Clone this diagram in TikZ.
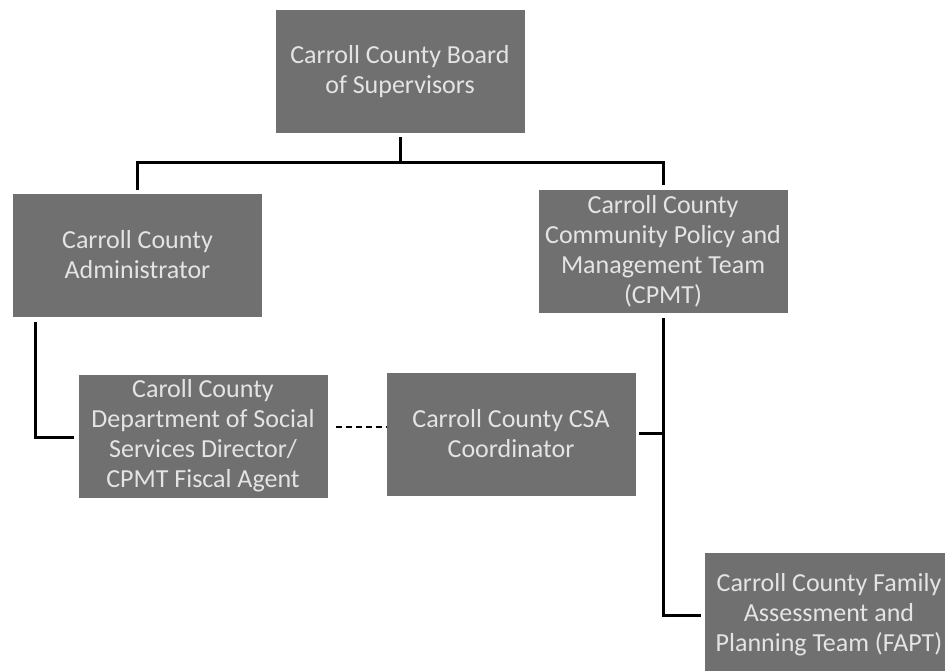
\documentclass[tikz,border=0pt]{standalone}
\usepackage{fontspec}
\setmainfont{Carlito}
\definecolor{boxfill}{RGB}{112,112,112}
\definecolor{boxtext}{RGB}{228,228,228}
\begin{document}
\begin{tikzpicture}[x=1pt,y=-1pt,
  orgbox/.style={fill=boxfill, minimum width=249pt, minimum height=123pt, inner sep=0pt,
    text=boxtext, align=center, font=\fontsize{26}{30}\selectfont},
  link/.style={line width=3pt, line cap=rect},
  dashlink/.style={line width=2pt, dash pattern=on 6pt off 4pt}]
\useasboundingbox (0,0) rectangle (945,670);
\clip (0,0) rectangle (945,670);
\node[orgbox] (b1) at (400,71.5) {Carroll County Board\\of Supervisors};
\node[orgbox] (b2) at (137.5,255) {Carroll County\\Administrator};
\node[orgbox] (b3) at (663,251) {Carroll County\\Community Policy and\\Management Team\\(CPMT)};
\node[orgbox] (b4) at (203,436) {Caroll County\\Department of Social\\Services Director/\\CPMT Fiscal Agent};
\node[orgbox] (b5) at (511,434) {Carroll County CSA\\Coordinator};
\node[orgbox] (b6) at (829,614.5) {Carroll County Family\\Assessment and\\Planning Team (FAPT)};
% top tree
\coordinate (j1) at (400,162);
\draw[link] ([yshift=-5pt]b1.south) -- (j1);
\draw[link] (b2.north |- j1) -- (b3.north |- j1);
\draw[link] (b2.north |- j1) -- ([yshift=5pt]b2.north);
\draw[link] (b3.north |- j1) -- ([yshift=6pt]b3.north);
% administrator to DSS
\coordinate (a1) at (35,323);
\coordinate (a2) at (35,437);
\draw[link] (a1) -- (a2) -- ([xshift=-6pt]b4.west |- a2);
% dashed DSS to CSA
\draw[dashlink] ([xshift=8pt]b4.east |- 0,427) -- (b5.west |- 0,427);
% CPMT down to FAPT
\coordinate (c1) at (663,615);
\draw[link] ([yshift=-7pt]b3.south) -- (c1) -- ([xshift=-5pt]b6.west |- c1);
\draw[link] ([xshift=5pt]b5.east |- 0,433) -- (663,433);
\end{tikzpicture}
\end{document}
